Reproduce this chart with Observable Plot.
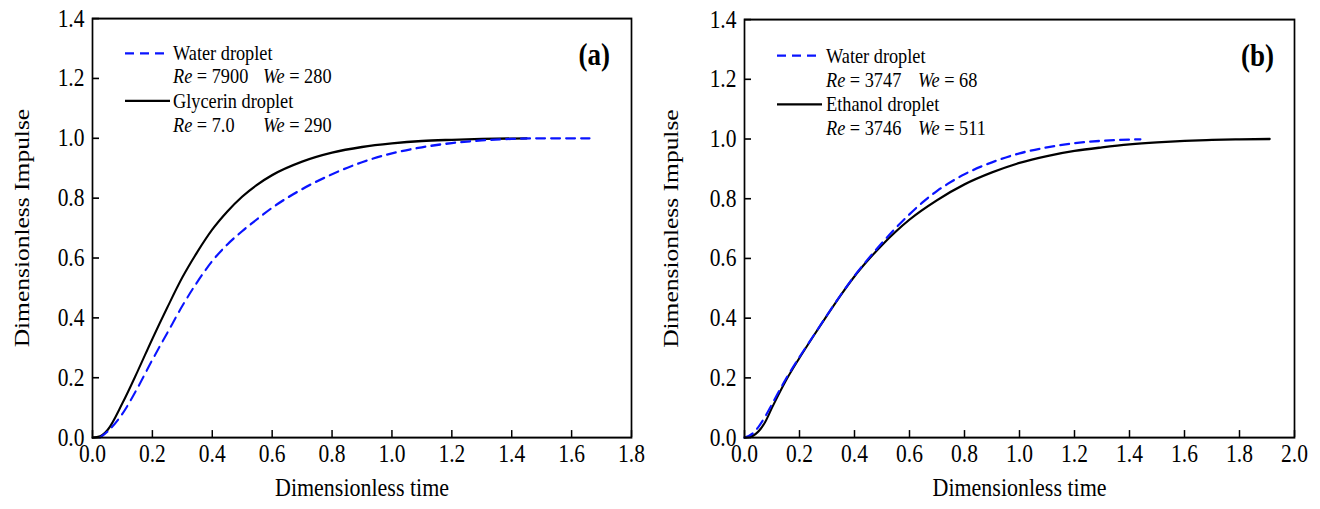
<!DOCTYPE html>
<html>
<head>
<meta charset="utf-8">
<script src="https://cdn.jsdelivr.net/npm/d3@7"></script>
<script src="https://cdn.jsdelivr.net/npm/@observablehq/plot@0.6"></script>
<style>
  html, body { margin: 0; padding: 0; background: #fff; }
  #page { position: relative; width: 1320px; height: 509px; overflow: hidden; }
  #wrap { position: absolute; left: 0; top: 0; width: 1320px; height: 439px; font-family: "Liberation Serif", "Times New Roman", serif; color: #000;
          transform: scaleY(1.1595); transform-origin: 0 0; }
  .panel { position: absolute; top: 0; }
  .row { position: absolute; font-size: 18.3px; line-height: 20px; height: 20px; white-space: nowrap; }
  .tag { position: absolute; font-size: 27px; font-weight: bold; line-height: 28px; }
  .sample { position: absolute; }
  svg g[aria-label="x-axis tick label"], svg g[aria-label="y-axis tick label"] { font-size: 21.5px; }
</style>
</head>
<body>
<div id="page">
<div id="wrap">
  <div id="pa" class="panel" style="left:0"></div>
  <div id="pb" class="panel" style="left:660px"></div>
</div>
</div>
<script>
// ---------- Data ----------
const yTicks = [0, 0.2, 0.4, 0.6, 0.8, 1.0, 1.2, 1.4];
const xTicksA = [0, 0.2, 0.4, 0.6, 0.8, 1.0, 1.2, 1.4, 1.6, 1.8];
const xTicksB = [0, 0.2, 0.4, 0.6, 0.8, 1.0, 1.2, 1.4, 1.6, 1.8, 2.0];

// Panel (a): water droplet (dashed blue)
const timeWaterA    = [0.025, 0.05, 0.1, 0.15, 0.2, 0.25, 0.3, 0.35, 0.4, 0.45, 0.5, 0.55, 0.6, 0.7, 0.8, 0.9, 1.0, 1.1, 1.2, 1.3, 1.4, 1.5, 1.66];
const impulseWaterA = [0.0, 0.02, 0.08, 0.165, 0.26, 0.35, 0.44, 0.52, 0.59, 0.645, 0.69, 0.73, 0.768, 0.83, 0.88, 0.92, 0.95, 0.97, 0.984, 0.993, 0.998, 1.0, 1.0];
// Panel (a): glycerin droplet (solid black)
const timeGlyA    = [0.0, 0.025, 0.05, 0.1, 0.15, 0.2, 0.25, 0.3, 0.35, 0.4, 0.45, 0.5, 0.55, 0.6, 0.7, 0.8, 0.9, 1.0, 1.1, 1.2, 1.3, 1.45];
const impulseGlyA = [0.0, 0.004, 0.025, 0.115, 0.22, 0.33, 0.435, 0.535, 0.62, 0.695, 0.755, 0.805, 0.845, 0.877, 0.922, 0.952, 0.971, 0.983, 0.991, 0.995, 0.998, 1.0];

// Panel (b): water droplet (dashed blue)
const timeWaterB    = [0.0, 0.03, 0.05, 0.075, 0.1, 0.15, 0.2, 0.25, 0.3, 0.35, 0.4, 0.45, 0.5, 0.55, 0.6, 0.65, 0.7, 0.75, 0.8, 0.9, 1.0, 1.1, 1.2, 1.3, 1.44];
const impulseWaterB = [0.0, 0.014, 0.035, 0.07, 0.112, 0.196, 0.27, 0.34, 0.41, 0.478, 0.542, 0.599, 0.652, 0.702, 0.748, 0.79, 0.826, 0.856, 0.882, 0.922, 0.952, 0.972, 0.986, 0.994, 0.999];
// Panel (b): ethanol droplet (solid black)
const timeEthB    = [0.0, 0.03, 0.05, 0.075, 0.1, 0.15, 0.2, 0.25, 0.3, 0.35, 0.4, 0.45, 0.5, 0.55, 0.6, 0.7, 0.8, 0.9, 1.0, 1.1, 1.2, 1.3, 1.4, 1.5, 1.6, 1.7, 1.8, 1.91];
const impulseEthB = [0.0, 0.006, 0.02, 0.052, 0.1, 0.19, 0.267, 0.339, 0.409, 0.477, 0.54, 0.595, 0.645, 0.69, 0.73, 0.795, 0.848, 0.888, 0.92, 0.943, 0.96, 0.972, 0.982, 0.989, 0.994, 0.997, 0.999, 1.0];

// Legend text
const legendNamesA = ["Water droplet", "Glycerin droplet"];
const legendReA = ["7900", "7.0"];
const legendWeA = ["280", "290"];
const legendNamesB = ["Water droplet", "Ethanol droplet"];
const legendReB = ["3747", "3746"];
const legendWeB = ["68", "511"];
const panelTags = ["(a)", "(b)"];
const xLabel = "Dimensionless time";
const yLabel = "Dimensionless Impulse";

// ---------- Styles ----------
const S = 1.1595;            // vertical stretch of the original figure
const BLUE = "#0a14ff";
const DASH = "9,6";

function zipSeries(ts, vs) { return ts.map((t, i) => ({t, v: vs[i]})); }

function panel({xDomain, xTicks, water, other, ml, mr, mt, mb, ylabelDx}) {
  const W = 660, H = 439;
  const pw = W - ml - mr, ph = H - mt - mb;
  return Plot.plot({
    width: W, height: H,
    marginLeft: ml, marginRight: mr, marginTop: mt, marginBottom: mb,
    style: {fontFamily: "'Liberation Serif', 'Times New Roman', serif", fontSize: "21.5px", color: "#000", background: "transparent", overflow: "visible"},
    x: {domain: xDomain},
    y: {domain: [0, 1.4]},
    marks: [
      Plot.line(other, {x: "t", y: "v", stroke: "#000", strokeWidth: 2, curve: "monotone-x"}),
      Plot.line(water, {x: "t", y: "v", stroke: BLUE, strokeWidth: 2, strokeDasharray: DASH, curve: "monotone-x"}),
      Plot.tickX(xTicks, {x: d => d, insetTop: ph - 6, stroke: "#000", strokeWidth: 1.5}),
      Plot.tickY(yTicks, {y: d => d, insetRight: pw - 7, stroke: "#000", strokeWidth: 1.4}),
      Plot.frame({stroke: "#000", strokeWidth: 1.7}),
      Plot.axisX(xTicks, {tickSize: 0, tickPadding: 6, tickFormat: d => d.toFixed(1), label: null, fontSize: 21.5}),
      Plot.axisY(yTicks, {tickSize: 0, tickPadding: 8, tickFormat: d => d.toFixed(1), label: null, fontSize: 21.5}),
      Plot.text([xLabel], {text: d => d, frameAnchor: "bottom", textAnchor: "middle", lineAnchor: "middle", dy: 43, fontSize: 22}),
      Plot.text([yLabel], {text: d => d, frameAnchor: "left", textAnchor: "middle", lineAnchor: "middle", rotate: -90, dx: ylabelDx, fontSize: 22})
    ]
  });
}

document.getElementById("pa").appendChild(panel({
  xDomain: [0, 1.8], xTicks: xTicksA,
  water: zipSeries(timeWaterA, impulseWaterA),
  other: zipSeries(timeGlyA, impulseGlyA),
  ml: 92, mr: 29, mt: 18 / S, mb: 72 / S, ylabelDx: -71
}));
document.getElementById("pb").appendChild(panel({
  xDomain: [0, 2.0], xTicks: xTicksB,
  water: zipSeries(timeWaterB, impulseWaterB),
  other: zipSeries(timeEthB, impulseEthB),
  ml: 84, mr: 26, mt: 19 / S, mb: 72 / S, ylabelDx: -74
}));

// ---------- Legends (HTML overlay) ----------
const wrap = document.getElementById("wrap");
function sample(left, cy, dashed) {
  const d = document.createElement("div");
  d.className = "sample";
  d.style.left = left + "px";
  d.style.top = (cy / S - 2) + "px";
  d.innerHTML = `<svg width="45" height="4" style="display:block"><line x1="0" y1="2" x2="45" y2="2" stroke="${dashed ? BLUE : "#000"}" stroke-width="2" ${dashed ? `stroke-dasharray="${DASH}"` : ""}/></svg>`;
  wrap.appendChild(d);
}
function row(left, cy, html) {
  const d = document.createElement("div");
  d.className = "row";
  d.style.left = left + "px";
  d.style.top = (cy / S - 10) + "px";
  d.innerHTML = html;
  wrap.appendChild(d);
}
function legend(names, res, wes, sampleX, textX, weX, rows) {
  for (let i = 0; i < 2; i++) {
    const cyName = rows[2 * i], cyPar = rows[2 * i + 1];
    sample(sampleX, cyName, i === 0);
    row(textX, cyName, names[i]);
    row(textX, cyPar, `<i>Re</i> = ${res[i]}`);
    row(weX, cyPar, `<i>We</i> = ${wes[i]}`);
  }
}
legend(legendNamesA, legendReA, legendWeA, 125, 173, 263, [53, 77, 101, 125]);
legend(legendNamesB, legendReB, legendWeB, 777, 826, 918, [56, 80, 104, 128]);

function tag(text, right, cy) {
  const d = document.createElement("div");
  d.className = "tag";
  d.style.left = (right - 50) + "px";
  d.style.width = "50px";
  d.style.textAlign = "right";
  d.style.top = (cy / S - 14) + "px";
  d.textContent = text;
  wrap.appendChild(d);
}
tag(panelTags[0], 610, 54);
tag(panelTags[1], 1274, 56);
</script>
</body>
</html>
